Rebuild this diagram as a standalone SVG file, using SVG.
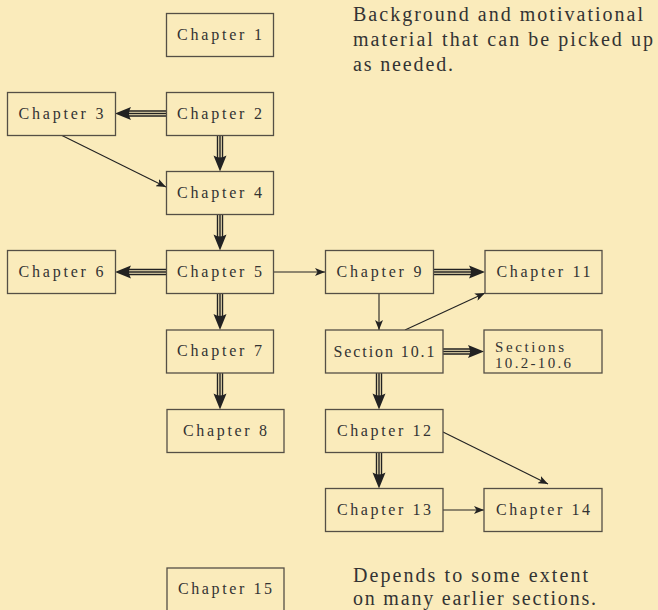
<svg xmlns="http://www.w3.org/2000/svg" width="658" height="610" viewBox="0 0 658 610">
<style>
.box{fill:#FAEBBB;stroke:#554f45;stroke-width:1.3}
.lbl{font-family:"Liberation Serif","Times New Roman",serif;font-size:16px;fill:#333}
.sm{font-size:15px}
.desc{font-family:"Liberation Serif","Times New Roman",serif;font-size:20px;fill:#333}
.thin{stroke:#222;stroke-width:1.1;fill:none}
.tl{stroke:#222;stroke-width:1.4;fill:none}
.hd{fill:#222}
</style>
<defs>
<marker id="ah" markerWidth="10" markerHeight="8" refX="10" refY="4" orient="auto" markerUnits="userSpaceOnUse">
<path d="M0,0 L10,4 L0,8 L2.5,4 Z" fill="#222"/>
</marker>
</defs>
<rect x="0" y="0" width="658" height="610" fill="#FAEBBB"/>

<g id="connectors">
<g transform="translate(166,113.5) rotate(180)"><path class="tl" d="M0,-2.5H39M0,0H39M0,2.5H39"/><path class="hd" d="M51,0L35,-6.5Q39,0 35,6.5Z"/></g>
<g transform="translate(220,135.5) rotate(90)"><path class="tl" d="M0,-2.5H24M0,0H24M0,2.5H24"/><path class="hd" d="M36,0L20,-6.5Q24,0 20,6.5Z"/></g>
<g transform="translate(220,214.5) rotate(90)"><path class="tl" d="M0,-2.5H24M0,0H24M0,2.5H24"/><path class="hd" d="M36,0L20,-6.5Q24,0 20,6.5Z"/></g>
<g transform="translate(166,272) rotate(180)"><path class="tl" d="M0,-2.5H39M0,0H39M0,2.5H39"/><path class="hd" d="M51,0L35,-6.5Q39,0 35,6.5Z"/></g>
<g transform="translate(220,293.5) rotate(90)"><path class="tl" d="M0,-2.5H24M0,0H24M0,2.5H24"/><path class="hd" d="M36.5,0L20.5,-6.5Q24.5,0 20.5,6.5Z"/></g>
<g transform="translate(220,373) rotate(90)"><path class="tl" d="M0,-2.5H24M0,0H24M0,2.5H24"/><path class="hd" d="M36.5,0L20.5,-6.5Q24.5,0 20.5,6.5Z"/></g>
<g transform="translate(433.5,272)"><path class="tl" d="M0,-2.5H39M0,0H39M0,2.5H39"/><path class="hd" d="M51.5,0L35.5,-6.5Q39.5,0 35.5,6.5Z"/></g>
<g transform="translate(443,351.5)"><path class="tl" d="M0,-2.5H29M0,0H29M0,2.5H29"/><path class="hd" d="M41,0L25,-6.5Q29,0 25,6.5Z"/></g>
<g transform="translate(379,373) rotate(90)"><path class="tl" d="M0,-2.5H24M0,0H24M0,2.5H24"/><path class="hd" d="M36.5,0L20.5,-6.5Q24.5,0 20.5,6.5Z"/></g>
<g transform="translate(379,452.5) rotate(90)"><path class="tl" d="M0,-2.5H24M0,0H24M0,2.5H24"/><path class="hd" d="M36,0L20,-6.5Q24,0 20,6.5Z"/></g>
<line class="thin" x1="62" y1="135.5" x2="166" y2="187" marker-end="url(#ah)"/>
<line class="thin" x1="273.5" y1="272" x2="325" y2="272" marker-end="url(#ah)"/>
<line class="thin" x1="379" y1="293.5" x2="379" y2="330" marker-end="url(#ah)"/>
<line class="thin" x1="405" y1="330" x2="485" y2="293" marker-end="url(#ah)"/>
<line class="thin" x1="443" y1="432" x2="548" y2="484" marker-end="url(#ah)"/>
<line class="thin" x1="443" y1="510" x2="484" y2="510" marker-end="url(#ah)"/>
</g>

<g id="ch1"><rect class="box" x="166.5" y="13.5" width="107" height="43"/><text class="lbl" x="177" y="39.5" textLength="85" lengthAdjust="spacing">Chapter 1</text></g>
<g id="ch2"><rect class="box" x="166.5" y="92.5" width="107" height="43"/><text class="lbl" x="177" y="118.5" textLength="85" lengthAdjust="spacing">Chapter 2</text></g>
<g id="ch3"><rect class="box" x="7.5" y="92.5" width="108" height="43"/><text class="lbl" x="18.5" y="118.5" textLength="85" lengthAdjust="spacing">Chapter 3</text></g>
<g id="ch4"><rect class="box" x="166.5" y="171.5" width="107" height="43"/><text class="lbl" x="177" y="197.5" textLength="85" lengthAdjust="spacing">Chapter 4</text></g>
<g id="ch5"><rect class="box" x="166.5" y="250.5" width="107" height="43"/><text class="lbl" x="177" y="276.5" textLength="85" lengthAdjust="spacing">Chapter 5</text></g>
<g id="ch6"><rect class="box" x="7.5" y="250.5" width="108" height="43"/><text class="lbl" x="18.5" y="276.5" textLength="85" lengthAdjust="spacing">Chapter 6</text></g>
<g id="ch7"><rect class="box" x="166.5" y="330" width="107" height="43"/><text class="lbl" x="177" y="356" textLength="85" lengthAdjust="spacing">Chapter 7</text></g>
<g id="ch8"><rect class="box" x="167" y="409.5" width="117" height="43"/><text class="lbl" x="183" y="435.5" textLength="84" lengthAdjust="spacing">Chapter 8</text></g>
<g id="ch9"><rect class="box" x="325.5" y="250.5" width="108" height="43"/><text class="lbl" x="336.5" y="276.5" textLength="85" lengthAdjust="spacing">Chapter 9</text></g>
<g id="ch11"><rect class="box" x="485" y="250.5" width="117" height="43"/><text class="lbl" x="496.5" y="276.5" textLength="94" lengthAdjust="spacing">Chapter 11</text></g>
<g id="sec10-1"><rect class="box" x="325.5" y="330" width="117.5" height="43"/><text class="lbl" x="333.5" y="356.5" textLength="101" lengthAdjust="spacing">Section 10.1</text></g>
<g id="sec10-2"><rect class="box" x="484" y="330" width="118" height="43"/><text class="lbl sm" x="495" y="352" textLength="69" lengthAdjust="spacing">Sections</text><text class="lbl sm" x="495" y="367.5" textLength="76" lengthAdjust="spacing">10.2-10.6</text></g>
<g id="ch12"><rect class="box" x="325.5" y="409.5" width="117.5" height="43"/><text class="lbl" x="337" y="435.5" textLength="94" lengthAdjust="spacing">Chapter 12</text></g>
<g id="ch13"><rect class="box" x="325.5" y="488.5" width="117.5" height="43"/><text class="lbl" x="337" y="515" textLength="94" lengthAdjust="spacing">Chapter 13</text></g>
<g id="ch14"><rect class="box" x="484" y="488.5" width="118" height="43"/><text class="lbl" x="496" y="515" textLength="94" lengthAdjust="spacing">Chapter 14</text></g>
<g id="ch15"><rect class="box" x="167" y="568" width="117" height="45"/><text class="lbl" x="178" y="593.5" textLength="94" lengthAdjust="spacing">Chapter 15</text></g>

<g id="notes">
<text class="desc" x="353" y="21" textLength="290" lengthAdjust="spacing">Background and motivational</text>
<text class="desc" x="353" y="46" textLength="300" lengthAdjust="spacing">material that can be picked up</text>
<text class="desc" x="353" y="71" textLength="100" lengthAdjust="spacing">as needed.</text>
<text class="desc" x="353" y="582" textLength="235" lengthAdjust="spacing">Depends to some extent</text>
<text class="desc" x="353" y="605" textLength="243" lengthAdjust="spacing">on many earlier sections.</text>
</g>
</svg>
